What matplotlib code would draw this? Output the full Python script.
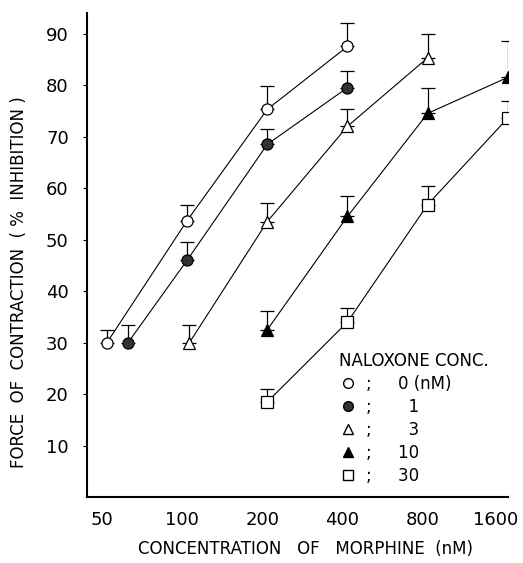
import matplotlib
matplotlib.use("Agg")
import matplotlib.pyplot as plt
import matplotlib.transforms as mtransforms
from matplotlib.lines import Line2D
import numpy as np

# morphine concentration (nM) and % inhibition for each naloxone dose
conc_0 = [50, 100, 200, 400]
resp_0 = [30, 53.7, 75.3, 87.5]
err_0 = [2.5, 3.0, 4.5, 4.5]

conc_1 = [60, 100, 200, 400]
resp_1 = [30, 46, 68.5, 79.5]
err_1 = [3.5, 3.5, 3.0, 3.2]

conc_3 = [102, 200, 400, 800]
resp_3 = [30, 53.5, 72, 85.3]
err_3 = [3.4, 3.7, 3.3, 4.7]

conc_10 = [200, 400, 800, 1600]
resp_10 = [32.5, 54.5, 74.5, 81.5]
err_10 = [3.7, 4.0, 5.0, 7.0]

conc_30 = [200, 400, 800, 1600]
resp_30 = [18.5, 34, 56.8, 73.6]
err_30 = [2.4, 2.8, 3.7, 3.4]

naloxone = ["0 (nM)", "1", "3", "10", "30"]
lab_gap = ["     ", "       ", "       ", "     ", "     "]
xticks = [50, 100, 200, 400, 800, 1600]
yticks = [10, 20, 30, 40, 50, 60, 70, 80, 90]

fig = plt.figure(figsize=(5.23, 5.63), dpi=100)
ax = fig.add_axes([0.166, 0.117, 0.805, 0.86])

series = [
    (conc_0, resp_0, err_0, "o", "white"),
    (conc_1, resp_1, err_1, "o", "#333333"),
    (conc_3, resp_3, err_3, "^", "white"),
    (conc_10, resp_10, err_10, "^", "black"),
    (conc_30, resp_30, err_30, "s", "white"),
]

handles = []
for x, y, e, m, fc in series:
    ax.errorbar(x, y, yerr=[np.zeros(len(e)), e], fmt="none", ecolor="black",
                elinewidth=0.9, capsize=5, capthick=0.9)
    ax.plot(x, y, color="black", lw=0.8, marker=m, markersize=8,
            markerfacecolor=fc, markeredgecolor="black", markeredgewidth=0.9, zorder=3)
    handles.append(Line2D([], [], ls="none", marker=m, markersize=7,
                          markerfacecolor=fc, markeredgecolor="black"))

ax.set_xscale("log")
ax.set_xlim(42, 1580)
ax.set_ylim(0, 94)
ax.set_xticks(xticks)
ax.set_xticklabels([str(t) for t in xticks])
ax.minorticks_off()
ax.set_yticks(yticks)
ax.tick_params(labelsize=13, length=3, width=0.8)
ax.tick_params(axis="y", pad=10)
ax.tick_params(axis="x", length=0, pad=10)
for s in ["top", "right"]:
    ax.spines[s].set_visible(False)
ax.spines["left"].set_linewidth(1.5)
ax.spines["bottom"].set_linewidth(1.5)

# tick labels sit a little left of their ticks in the original
for i, lab in enumerate(ax.get_xticklabels()):
    dx = -12 if i == len(xticks) - 1 else -5
    lab.set_transform(lab.get_transform() +
                      mtransforms.ScaledTranslation(dx / 100, 0, fig.dpi_scale_trans))

ax.set_ylabel("FORCE  OF  CONTRACTION  ( %  INHIBITION )", fontsize=12)
ax.yaxis.set_label_coords(-0.14, 0.445)
ax.set_xlabel("CONCENTRATION   OF   MORPHINE  (nM)", fontsize=12)
ax.xaxis.set_label_coords(0.52, -0.088)

labels = [";" + g + n for g, n in zip(lab_gap, naloxone)]
leg = ax.legend(handles, labels, title="NALOXONE CONC.", loc="upper left",
                bbox_to_anchor=(0.60, 0.30), frameon=False, fontsize=12,
                title_fontsize=12, handlelength=1.0, handletextpad=0.6,
                labelspacing=0.3, borderpad=0, borderaxespad=0)
leg._legend_box.align = "left"

fig.savefig("out.png", dpi=100)
